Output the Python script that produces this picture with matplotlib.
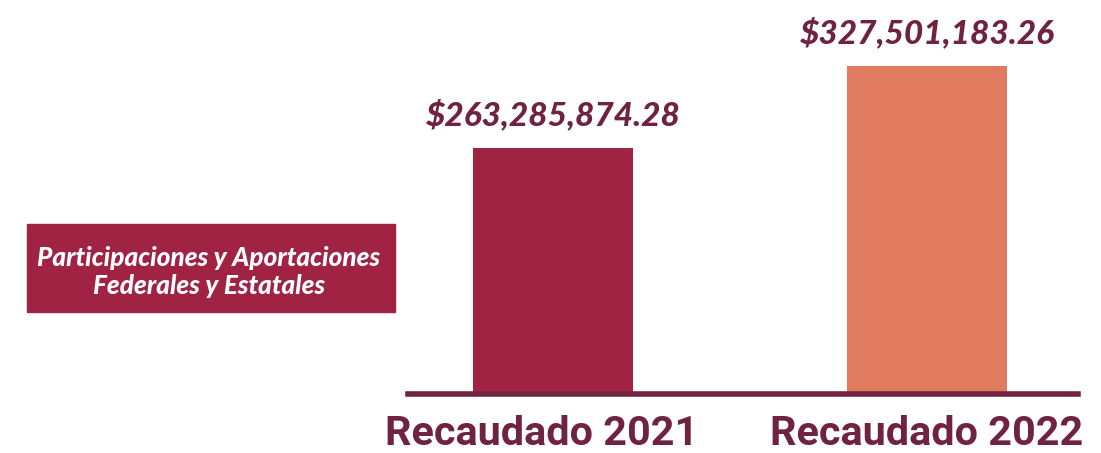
import numpy as np
import matplotlib
matplotlib.use('Agg')
import matplotlib.pyplot as plt

categories = ['Recaudado 2021', 'Recaudado 2022']
values = [263285874.28, 327501183.26]
value_labels = ['$263,285,874.28', '$327,501,183.26']
box_text = 'Participaciones y Aportaciones\nFederales y Estatales'

bar_colors = ['#A02344', '#E07B5F']
dark = '#6F2340'

fig = plt.figure(figsize=(11.01, 4.53), dpi=100)
ax = fig.add_axes([0.3706, 0.130, 0.6085, 0.870])

x = np.arange(len(categories))
ax.bar(x, values, width=0.428, color=bar_colors, zorder=2)
ax.set_xlim(-0.388, 1.404)
ax.set_ylim(70.6e6, 379.2e6)

for s in ['top', 'right', 'left']:
    ax.spines[s].set_visible(False)
ax.spines['bottom'].set_color(dark)
ax.spines['bottom'].set_linewidth(4)
ax.set_yticks([])
ax.set_xticks([])

for xi, v, lab in zip(x, values, value_labels):
    ax.annotate(lab, (xi, v), xytext=(0, 13), textcoords='offset points',
                ha='center', va='bottom', fontsize=24, fontweight=900,
                fontstyle='italic', color=dark, family='Lato')

cat_x = [542, 927]
for cx, cat in zip(cat_x, categories):
    fig.text(cx / 1101, 1 - 434 / 453, cat, ha='center', va='center',
             fontsize=29.8, fontweight='bold', color=dark, family='Roboto')

fig.patches.append(plt.Rectangle((27 / 1101, 1 - 312 / 453), 368 / 1101, 88 / 453,
                                 transform=fig.transFigure, color='#A02344', zorder=0))
fig.text(209 / 1101, 1 - 272 / 453, box_text, ha='center', va='center',
         fontsize=18.8, fontweight=900, fontstyle='italic', color='white',
         family='Lato', linespacing=1.2)

fig.savefig('out.png', dpi=100)
